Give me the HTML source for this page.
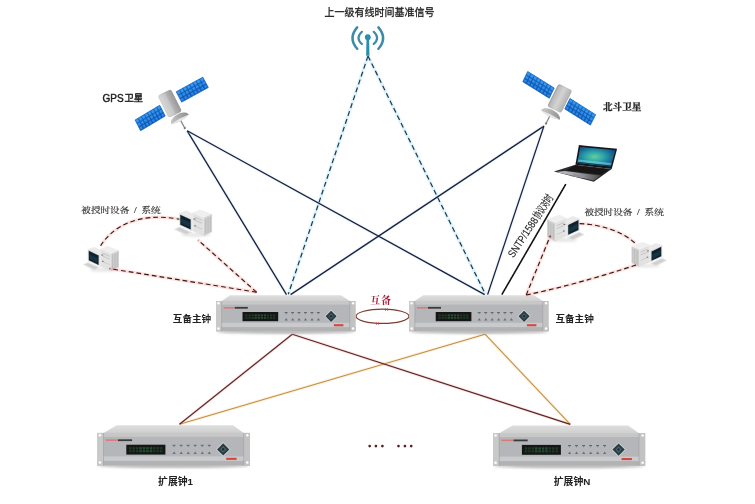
<!DOCTYPE html>
<html lang="zh-CN">
<head>
<meta charset="utf-8">
<title>时钟同步系统组网图</title>
<style>
html,body{margin:0;padding:0;background:#fff;}
body{width:755px;height:504px;overflow:hidden;font-family:"Liberation Sans","Noto Sans CJK SC",sans-serif;}
svg{display:block;}
</style>
</head>
<body>
<svg width="755" height="504" viewBox="0 0 755 504">
<defs>
<linearGradient id="gtop" x1="0" y1="0" x2="0" y2="1"><stop offset="0" stop-color="#dedede"/><stop offset="1" stop-color="#cfcfcf"/></linearGradient>
<linearGradient id="gfront" x1="0" y1="0" x2="0" y2="1"><stop offset="0" stop-color="#d4d4d4"/><stop offset=".6" stop-color="#cbcbcb"/><stop offset="1" stop-color="#c0c0c0"/></linearGradient>
<linearGradient id="gpanel" x1="0" y1="0" x2="0" y2="1"><stop offset="0" stop-color="#2f8fe8"/><stop offset="1" stop-color="#1260c4"/></linearGradient>
<linearGradient id="gbody" x1="0" y1="0" x2="1" y2="0"><stop offset="0" stop-color="#d2d2d2"/><stop offset=".5" stop-color="#b8b8b8"/><stop offset="1" stop-color="#979797"/></linearGradient>
<linearGradient id="gbody2" x1="0" y1="0" x2="1" y2="0"><stop offset="0" stop-color="#a2a2a2"/><stop offset=".55" stop-color="#cfcfcf"/><stop offset="1" stop-color="#b0b0b0"/></linearGradient>
<linearGradient id="gdish" x1="0" y1="0" x2="1" y2="0"><stop offset="0" stop-color="#c9c9c9"/><stop offset="1" stop-color="#8f8f8f"/></linearGradient>
<radialGradient id="gscreen" cx="0.45" cy="0.5" r="0.6"><stop offset="0" stop-color="#5fd0a0"/><stop offset=".45" stop-color="#2aa0a8"/><stop offset="1" stop-color="#0f4a86"/></radialGradient>
<linearGradient id="gpalm" x1="0" y1="0" x2="1" y2="0"><stop offset="0" stop-color="#c4c6c9"/><stop offset=".5" stop-color="#9a9ca0"/><stop offset="1" stop-color="#4a4c50"/></linearGradient>
<filter id="b2" x="-10%" y="-200%" width="120%" height="500%"><feGaussianBlur stdDeviation="1.2"/></filter>
<filter id="soft" x="-5%" y="-5%" width="110%" height="110%"><feGaussianBlur stdDeviation="0.38"/></filter>
</defs>
<rect width="755" height="504" fill="#fff"/>
<g filter="url(#soft)">
<line x1="368" y1="56" x2="288.3" y2="294.2" stroke="#6cc8ee" stroke-width="3.4" opacity=".22"/>
<line x1="368" y1="56" x2="288.3" y2="294.2" stroke="#183a52" stroke-width="1.2" stroke-dasharray="5 3.3"/>
<line x1="368" y1="56" x2="485.4" y2="294.2" stroke="#6cc8ee" stroke-width="3.4" opacity=".22"/>
<line x1="368" y1="56" x2="485.4" y2="294.2" stroke="#183a52" stroke-width="1.2" stroke-dasharray="5 3.3"/>
<line x1="187.2" y1="130.8" x2="286.5" y2="294.6" stroke="#9fc4ee" stroke-width="3.2" opacity=".18"/>
<line x1="187.2" y1="130.8" x2="286.5" y2="294.6" stroke="#16233f" stroke-width="1.3" />
<line x1="187.2" y1="130.8" x2="484.7" y2="294.6" stroke="#9fc4ee" stroke-width="3.2" opacity=".18"/>
<line x1="187.2" y1="130.8" x2="484.7" y2="294.6" stroke="#16233f" stroke-width="1.3" />
<line x1="543.9" y1="126.1" x2="290.6" y2="294.6" stroke="#9fc4ee" stroke-width="3.2" opacity=".18"/>
<line x1="543.9" y1="126.1" x2="290.6" y2="294.6" stroke="#16233f" stroke-width="1.3" />
<line x1="543.9" y1="126.1" x2="487.6" y2="294.6" stroke="#9fc4ee" stroke-width="3.2" opacity=".18"/>
<line x1="543.9" y1="126.1" x2="487.6" y2="294.6" stroke="#16233f" stroke-width="1.3" />
<line x1="565.8" y1="184.2" x2="501.8" y2="294.6" stroke="#121212" stroke-width="1.6" />
<line x1="485" y1="334.2" x2="179.5" y2="424.3" stroke="#f6d9a0" stroke-width="3" opacity=".35"/>
<line x1="485" y1="334.2" x2="179.5" y2="424.3" stroke="#c48e44" stroke-width="1.05" />
<line x1="485" y1="334.2" x2="570.3" y2="424.4" stroke="#f6d9a0" stroke-width="3" opacity=".35"/>
<line x1="485" y1="334.2" x2="570.3" y2="424.4" stroke="#c48e44" stroke-width="1.05" />
<line x1="292.3" y1="334.3" x2="179.5" y2="424.3" stroke="#f0a8a0" stroke-width="3" opacity=".3"/>
<line x1="292.3" y1="334.3" x2="179.5" y2="424.3" stroke="#5c2428" stroke-width="1.15" />
<line x1="292.3" y1="334.3" x2="570.3" y2="424.4" stroke="#f0a8a0" stroke-width="3" opacity=".3"/>
<line x1="292.3" y1="334.3" x2="570.3" y2="424.4" stroke="#5c2428" stroke-width="1.15" />
<ellipse cx="382.5" cy="316.3" rx="26.5" ry="7.1" fill="none" stroke="#7d3b30" stroke-width="1.2"/>
<path d="M385,308 l3,3 l0,-3 l-3,3 z" fill="#c4373a"/>
<path d="M376,322 l3,3 l0,-3 l-3,3 z" fill="#c4373a"/>
<g><ellipse cx="285.8" cy="331.9" rx="68.8" ry="2" fill="#8e8e8e" opacity="0.6" filter="url(#b2)"/><polygon points="230.0,295.2 341.0,295.2 350.2,301.3 221.3,301.3" fill="url(#gtop)"/><rect x="216.0" y="301.0" width="139.5" height="30.3" fill="#c7c7c7"/><rect x="221.3" y="304.6" width="128.9" height="22.4" fill="#b5b6b9"/><rect x="221.3" y="322.8" width="128.9" height="4.2" fill="#c9cacd"/><rect x="216.0" y="327.1" width="139.5" height="4.2" fill="#b2b2b2"/><rect x="216.0" y="301.0" width="5.3" height="30.3" fill="#c9c9c9"/><rect x="350.2" y="301.0" width="5.3" height="30.3" fill="#c2c2c2"/><rect x="221.3" y="301.0" width="0.8" height="30.3" fill="#a2a2a2" opacity=".8"/><rect x="349.4" y="301.0" width="0.8" height="30.3" fill="#a2a2a2" opacity=".8"/><circle cx="218.4" cy="303.3" r="1.25" fill="#fff"/><circle cx="218.4" cy="328.6" r="1.25" fill="#fff"/><circle cx="353.1" cy="303.3" r="1.25" fill="#fff"/><circle cx="353.1" cy="328.6" r="1.25" fill="#fff"/><rect x="223.7" y="307.1" width="10.9" height="1.5" fill="#d77a78"/><rect x="234.8" y="306.9" width="13.0" height="1.8" fill="#3b3b3b"/><rect x="242.5" y="312.0" width="35.7" height="9.2" fill="#161816"/><rect x="245.3" y="314.4" width="2.2" height="4.4" fill="#2f5f3a" opacity="0.45"/><rect x="248.4" y="314.4" width="2.2" height="4.4" fill="#2f5f3a" opacity="0.45"/><rect x="251.5" y="314.4" width="2.2" height="4.4" fill="#2f5f3a" opacity="0.45"/><rect x="254.6" y="314.4" width="2.2" height="4.4" fill="#2f5f3a" opacity="0.75"/><rect x="257.7" y="314.4" width="2.2" height="4.4" fill="#2f5f3a" opacity="0.75"/><rect x="260.8" y="314.4" width="2.2" height="4.4" fill="#2f5f3a" opacity="0.75"/><rect x="263.9" y="314.4" width="2.2" height="4.4" fill="#2f5f3a" opacity="0.75"/><rect x="266.9" y="314.4" width="2.2" height="4.4" fill="#2f5f3a" opacity="0.45"/><rect x="270.0" y="314.4" width="2.2" height="4.4" fill="#2f5f3a" opacity="0.45"/><rect x="273.1" y="314.4" width="2.2" height="4.4" fill="#2f5f3a" opacity="0.45"/><rect x="244.5" y="316.2" width="31.7" height="0.8" fill="#161816" opacity=".8"/><rect x="284.7" y="312.0" width="2.8" height="1.1" fill="#5d636b"/><rect x="285.7" y="312.7" width="0.9" height="1.6" fill="#7a8088"/><polygon points="286.2,318.1 287.8,320.6 284.6,320.6" fill="#6a7078"/><rect x="291.2" y="312.0" width="2.8" height="1.1" fill="#5d636b"/><rect x="292.2" y="312.7" width="0.9" height="1.6" fill="#7a8088"/><polygon points="292.7,318.1 294.3,320.6 291.1,320.6" fill="#6a7078"/><rect x="297.6" y="312.0" width="2.8" height="1.1" fill="#5d636b"/><rect x="298.6" y="312.7" width="0.9" height="1.6" fill="#7a8088"/><polygon points="299.1,318.1 300.7,320.6 297.5,320.6" fill="#6a7078"/><rect x="304.0" y="312.0" width="2.8" height="1.1" fill="#5d636b"/><rect x="305.0" y="312.7" width="0.9" height="1.6" fill="#7a8088"/><polygon points="305.5,318.1 307.1,320.6 303.9,320.6" fill="#6a7078"/><rect x="310.5" y="312.0" width="2.8" height="1.1" fill="#5d636b"/><rect x="311.5" y="312.7" width="0.9" height="1.6" fill="#7a8088"/><polygon points="312.0,318.1 313.6,320.6 310.4,320.6" fill="#6a7078"/><rect x="316.9" y="312.0" width="2.8" height="1.1" fill="#5d636b"/><rect x="317.9" y="312.7" width="0.9" height="1.6" fill="#7a8088"/><polygon points="318.4,318.1 320.0,320.6 316.8,320.6" fill="#6a7078"/><polygon points="331.1,309.5 337.9,316.3 331.1,323.1 324.3,316.3" fill="#d6d9dc" opacity=".8"/><polygon points="331.1,310.7 336.7,316.3 331.1,321.9 325.5,316.3" fill="#2b3c42"/><polygon points="331.1,313.5 333.9,316.3 331.1,319.1 328.3,316.3" fill="#4c6a74"/><circle cx="331.1" cy="316.3" r="1.3" fill="#1f2b30"/><rect x="333.9" y="324.2" width="9.5" height="2.1" fill="#d8453c"/></g>
<g><ellipse cx="478.9" cy="331.9" rx="68.7" ry="2" fill="#8e8e8e" opacity="0.6" filter="url(#b2)"/><polygon points="423.2,295.2 534.0,295.2 543.2,301.3 414.5,301.3" fill="url(#gtop)"/><rect x="409.2" y="301.0" width="139.3" height="30.3" fill="#c7c7c7"/><rect x="414.5" y="304.6" width="128.7" height="22.4" fill="#b5b6b9"/><rect x="414.5" y="322.8" width="128.7" height="4.2" fill="#c9cacd"/><rect x="409.2" y="327.1" width="139.3" height="4.2" fill="#b2b2b2"/><rect x="409.2" y="301.0" width="5.3" height="30.3" fill="#c9c9c9"/><rect x="543.2" y="301.0" width="5.3" height="30.3" fill="#c2c2c2"/><rect x="414.5" y="301.0" width="0.8" height="30.3" fill="#a2a2a2" opacity=".8"/><rect x="542.4" y="301.0" width="0.8" height="30.3" fill="#a2a2a2" opacity=".8"/><circle cx="411.6" cy="303.3" r="1.25" fill="#fff"/><circle cx="411.6" cy="328.6" r="1.25" fill="#fff"/><circle cx="546.1" cy="303.3" r="1.25" fill="#fff"/><circle cx="546.1" cy="328.6" r="1.25" fill="#fff"/><rect x="416.9" y="307.1" width="10.9" height="1.5" fill="#d77a78"/><rect x="428.0" y="306.9" width="13.0" height="1.8" fill="#3b3b3b"/><rect x="435.7" y="312.0" width="35.7" height="9.2" fill="#161816"/><rect x="438.5" y="314.4" width="2.2" height="4.4" fill="#2f5f3a" opacity="0.45"/><rect x="441.6" y="314.4" width="2.2" height="4.4" fill="#2f5f3a" opacity="0.45"/><rect x="444.6" y="314.4" width="2.2" height="4.4" fill="#2f5f3a" opacity="0.45"/><rect x="447.7" y="314.4" width="2.2" height="4.4" fill="#2f5f3a" opacity="0.75"/><rect x="450.8" y="314.4" width="2.2" height="4.4" fill="#2f5f3a" opacity="0.75"/><rect x="453.9" y="314.4" width="2.2" height="4.4" fill="#2f5f3a" opacity="0.75"/><rect x="457.0" y="314.4" width="2.2" height="4.4" fill="#2f5f3a" opacity="0.75"/><rect x="460.1" y="314.4" width="2.2" height="4.4" fill="#2f5f3a" opacity="0.45"/><rect x="463.2" y="314.4" width="2.2" height="4.4" fill="#2f5f3a" opacity="0.45"/><rect x="466.2" y="314.4" width="2.2" height="4.4" fill="#2f5f3a" opacity="0.45"/><rect x="437.7" y="316.2" width="31.7" height="0.8" fill="#161816" opacity=".8"/><rect x="477.8" y="312.0" width="2.8" height="1.1" fill="#5d636b"/><rect x="478.8" y="312.7" width="0.9" height="1.6" fill="#7a8088"/><polygon points="479.3,318.1 480.9,320.6 477.7,320.6" fill="#6a7078"/><rect x="484.3" y="312.0" width="2.8" height="1.1" fill="#5d636b"/><rect x="485.3" y="312.7" width="0.9" height="1.6" fill="#7a8088"/><polygon points="485.8,318.1 487.4,320.6 484.2,320.6" fill="#6a7078"/><rect x="490.7" y="312.0" width="2.8" height="1.1" fill="#5d636b"/><rect x="491.7" y="312.7" width="0.9" height="1.6" fill="#7a8088"/><polygon points="492.2,318.1 493.8,320.6 490.6,320.6" fill="#6a7078"/><rect x="497.1" y="312.0" width="2.8" height="1.1" fill="#5d636b"/><rect x="498.1" y="312.7" width="0.9" height="1.6" fill="#7a8088"/><polygon points="498.6,318.1 500.2,320.6 497.0,320.6" fill="#6a7078"/><rect x="503.5" y="312.0" width="2.8" height="1.1" fill="#5d636b"/><rect x="504.5" y="312.7" width="0.9" height="1.6" fill="#7a8088"/><polygon points="505.0,318.1 506.6,320.6 503.4,320.6" fill="#6a7078"/><rect x="509.9" y="312.0" width="2.8" height="1.1" fill="#5d636b"/><rect x="510.9" y="312.7" width="0.9" height="1.6" fill="#7a8088"/><polygon points="511.4,318.1 513.0,320.6 509.8,320.6" fill="#6a7078"/><polygon points="524.1,309.5 530.9,316.3 524.1,323.1 517.3,316.3" fill="#d6d9dc" opacity=".8"/><polygon points="524.1,310.7 529.7,316.3 524.1,321.9 518.5,316.3" fill="#2b3c42"/><polygon points="524.1,313.5 526.9,316.3 524.1,319.1 521.3,316.3" fill="#4c6a74"/><circle cx="524.1" cy="316.3" r="1.3" fill="#1f2b30"/><rect x="526.9" y="324.2" width="9.5" height="2.1" fill="#d8453c"/></g>
<g><ellipse cx="173.6" cy="466.1" rx="75.3" ry="2" fill="#8e8e8e" opacity="0.6" filter="url(#b2)"/><polygon points="116.7,425.3 232.9,425.3 244.1,433.2 103.1,433.2" fill="url(#gtop)"/><rect x="97.3" y="432.9" width="152.6" height="32.6" fill="#c7c7c7"/><rect x="103.1" y="436.8" width="141.0" height="24.1" fill="#b5b6b9"/><rect x="103.1" y="456.4" width="141.0" height="4.6" fill="#c9cacd"/><rect x="97.3" y="460.9" width="152.6" height="4.6" fill="#b2b2b2"/><rect x="97.3" y="432.9" width="5.8" height="32.6" fill="#c9c9c9"/><rect x="244.1" y="432.9" width="5.8" height="32.6" fill="#c2c2c2"/><rect x="103.1" y="432.9" width="0.8" height="32.6" fill="#a2a2a2" opacity=".8"/><rect x="243.3" y="432.9" width="0.8" height="32.6" fill="#a2a2a2" opacity=".8"/><circle cx="99.9" cy="435.3" r="1.25" fill="#fff"/><circle cx="99.9" cy="462.6" r="1.25" fill="#fff"/><circle cx="247.3" cy="435.3" r="1.25" fill="#fff"/><circle cx="247.3" cy="462.6" r="1.25" fill="#fff"/><rect x="105.7" y="439.4" width="11.9" height="1.5" fill="#d77a78"/><rect x="117.9" y="439.3" width="14.2" height="1.8" fill="#3b3b3b"/><rect x="126.3" y="444.7" width="39.1" height="9.9" fill="#161816"/><rect x="129.1" y="447.1" width="2.5" height="5.1" fill="#2f5f3a" opacity="0.45"/><rect x="132.5" y="447.1" width="2.5" height="5.1" fill="#2f5f3a" opacity="0.45"/><rect x="135.9" y="447.1" width="2.5" height="5.1" fill="#2f5f3a" opacity="0.45"/><rect x="139.4" y="447.1" width="2.5" height="5.1" fill="#2f5f3a" opacity="0.75"/><rect x="142.8" y="447.1" width="2.5" height="5.1" fill="#2f5f3a" opacity="0.75"/><rect x="146.2" y="447.1" width="2.5" height="5.1" fill="#2f5f3a" opacity="0.75"/><rect x="149.7" y="447.1" width="2.5" height="5.1" fill="#2f5f3a" opacity="0.75"/><rect x="153.1" y="447.1" width="2.5" height="5.1" fill="#2f5f3a" opacity="0.45"/><rect x="156.5" y="447.1" width="2.5" height="5.1" fill="#2f5f3a" opacity="0.45"/><rect x="159.9" y="447.1" width="2.5" height="5.1" fill="#2f5f3a" opacity="0.45"/><rect x="128.3" y="449.3" width="35.1" height="0.8" fill="#161816" opacity=".8"/><rect x="172.6" y="444.8" width="2.8" height="1.1" fill="#5d636b"/><rect x="173.6" y="445.5" width="0.9" height="1.6" fill="#7a8088"/><polygon points="174.1,451.4 175.7,453.9 172.5,453.9" fill="#6a7078"/><rect x="179.7" y="444.8" width="2.8" height="1.1" fill="#5d636b"/><rect x="180.7" y="445.5" width="0.9" height="1.6" fill="#7a8088"/><polygon points="181.2,451.4 182.8,453.9 179.6,453.9" fill="#6a7078"/><rect x="186.7" y="444.8" width="2.8" height="1.1" fill="#5d636b"/><rect x="187.7" y="445.5" width="0.9" height="1.6" fill="#7a8088"/><polygon points="188.2,451.4 189.8,453.9 186.6,453.9" fill="#6a7078"/><rect x="193.7" y="444.8" width="2.8" height="1.1" fill="#5d636b"/><rect x="194.7" y="445.5" width="0.9" height="1.6" fill="#7a8088"/><polygon points="195.2,451.4 196.8,453.9 193.6,453.9" fill="#6a7078"/><rect x="200.8" y="444.8" width="2.8" height="1.1" fill="#5d636b"/><rect x="201.8" y="445.5" width="0.9" height="1.6" fill="#7a8088"/><polygon points="202.3,451.4 203.9,453.9 200.7,453.9" fill="#6a7078"/><rect x="207.8" y="444.8" width="2.8" height="1.1" fill="#5d636b"/><rect x="208.8" y="445.5" width="0.9" height="1.6" fill="#7a8088"/><polygon points="209.3,451.4 210.9,453.9 207.7,453.9" fill="#6a7078"/><polygon points="223.2,442.0 230.6,449.4 223.2,456.8 215.8,449.4" fill="#d6d9dc" opacity=".8"/><polygon points="223.2,443.2 229.4,449.4 223.2,455.6 217.0,449.4" fill="#2b3c42"/><polygon points="223.2,446.3 226.3,449.4 223.2,452.5 220.1,449.4" fill="#4c6a74"/><circle cx="223.2" cy="449.4" r="1.3" fill="#1f2b30"/><rect x="226.2" y="457.8" width="10.4" height="2.1" fill="#d8453c"/></g>
<g><ellipse cx="569.1" cy="466.3" rx="75.1" ry="2" fill="#8e8e8e" opacity="0.6" filter="url(#b2)"/><polygon points="512.4,425.5 628.2,425.5 639.4,433.4 498.8,433.4" fill="url(#gtop)"/><rect x="493.0" y="433.1" width="152.2" height="32.6" fill="#c7c7c7"/><rect x="498.8" y="437.0" width="140.6" height="24.1" fill="#b5b6b9"/><rect x="498.8" y="456.6" width="140.6" height="4.6" fill="#c9cacd"/><rect x="493.0" y="461.1" width="152.2" height="4.6" fill="#b2b2b2"/><rect x="493.0" y="433.1" width="5.8" height="32.6" fill="#c9c9c9"/><rect x="639.4" y="433.1" width="5.8" height="32.6" fill="#c2c2c2"/><rect x="498.8" y="433.1" width="0.8" height="32.6" fill="#a2a2a2" opacity=".8"/><rect x="638.6" y="433.1" width="0.8" height="32.6" fill="#a2a2a2" opacity=".8"/><circle cx="495.6" cy="435.5" r="1.25" fill="#fff"/><circle cx="495.6" cy="462.8" r="1.25" fill="#fff"/><circle cx="642.6" cy="435.5" r="1.25" fill="#fff"/><circle cx="642.6" cy="462.8" r="1.25" fill="#fff"/><rect x="501.4" y="439.6" width="11.9" height="1.5" fill="#d77a78"/><rect x="513.5" y="439.5" width="14.2" height="1.8" fill="#3b3b3b"/><rect x="521.9" y="444.9" width="39.0" height="9.9" fill="#161816"/><rect x="524.7" y="447.3" width="2.5" height="5.1" fill="#2f5f3a" opacity="0.45"/><rect x="528.1" y="447.3" width="2.5" height="5.1" fill="#2f5f3a" opacity="0.45"/><rect x="531.6" y="447.3" width="2.5" height="5.1" fill="#2f5f3a" opacity="0.45"/><rect x="535.0" y="447.3" width="2.5" height="5.1" fill="#2f5f3a" opacity="0.75"/><rect x="538.4" y="447.3" width="2.5" height="5.1" fill="#2f5f3a" opacity="0.75"/><rect x="541.8" y="447.3" width="2.5" height="5.1" fill="#2f5f3a" opacity="0.75"/><rect x="545.2" y="447.3" width="2.5" height="5.1" fill="#2f5f3a" opacity="0.75"/><rect x="548.6" y="447.3" width="2.5" height="5.1" fill="#2f5f3a" opacity="0.45"/><rect x="552.0" y="447.3" width="2.5" height="5.1" fill="#2f5f3a" opacity="0.45"/><rect x="555.5" y="447.3" width="2.5" height="5.1" fill="#2f5f3a" opacity="0.45"/><rect x="523.9" y="449.5" width="35.0" height="0.8" fill="#161816" opacity=".8"/><rect x="568.1" y="445.0" width="2.8" height="1.1" fill="#5d636b"/><rect x="569.1" y="445.7" width="0.9" height="1.6" fill="#7a8088"/><polygon points="569.6,451.6 571.2,454.1 568.0,454.1" fill="#6a7078"/><rect x="575.1" y="445.0" width="2.8" height="1.1" fill="#5d636b"/><rect x="576.1" y="445.7" width="0.9" height="1.6" fill="#7a8088"/><polygon points="576.6,451.6 578.2,454.1 575.0,454.1" fill="#6a7078"/><rect x="582.2" y="445.0" width="2.8" height="1.1" fill="#5d636b"/><rect x="583.2" y="445.7" width="0.9" height="1.6" fill="#7a8088"/><polygon points="583.7,451.6 585.3,454.1 582.1,454.1" fill="#6a7078"/><rect x="589.2" y="445.0" width="2.8" height="1.1" fill="#5d636b"/><rect x="590.2" y="445.7" width="0.9" height="1.6" fill="#7a8088"/><polygon points="590.7,451.6 592.3,454.1 589.1,454.1" fill="#6a7078"/><rect x="596.2" y="445.0" width="2.8" height="1.1" fill="#5d636b"/><rect x="597.2" y="445.7" width="0.9" height="1.6" fill="#7a8088"/><polygon points="597.7,451.6 599.3,454.1 596.1,454.1" fill="#6a7078"/><rect x="603.2" y="445.0" width="2.8" height="1.1" fill="#5d636b"/><rect x="604.2" y="445.7" width="0.9" height="1.6" fill="#7a8088"/><polygon points="604.7,451.6 606.3,454.1 603.1,454.1" fill="#6a7078"/><polygon points="618.6,442.2 626.0,449.6 618.6,457.0 611.2,449.6" fill="#d6d9dc" opacity=".8"/><polygon points="618.6,443.4 624.8,449.6 618.6,455.8 612.4,449.6" fill="#2b3c42"/><polygon points="618.6,446.5 621.7,449.6 618.6,452.7 615.5,449.6" fill="#4c6a74"/><circle cx="618.6" cy="449.6" r="1.3" fill="#1f2b30"/><rect x="621.6" y="458.0" width="10.3" height="2.1" fill="#d8453c"/></g>
<g><g transform="matrix(0.8584,-0.5130,0.4572,0.8894,135.1,120)"><rect x="0" y="0" width="28.66" height="12.03" fill="url(#gpanel)"/><rect x="0.70" y="0.70" width="2.18" height="2.41" fill="#45a6f5" opacity=".5"/><rect x="0.70" y="4.71" width="2.18" height="2.41" fill="#45a6f5" opacity=".5"/><rect x="0.70" y="8.72" width="2.18" height="2.41" fill="#45a6f5" opacity=".5"/><rect x="4.28" y="0.70" width="2.18" height="2.41" fill="#45a6f5" opacity=".5"/><rect x="4.28" y="4.71" width="2.18" height="2.41" fill="#45a6f5" opacity=".5"/><rect x="4.28" y="8.72" width="2.18" height="2.41" fill="#45a6f5" opacity=".5"/><rect x="7.86" y="0.70" width="2.18" height="2.41" fill="#45a6f5" opacity=".5"/><rect x="7.86" y="4.71" width="2.18" height="2.41" fill="#45a6f5" opacity=".5"/><rect x="7.86" y="8.72" width="2.18" height="2.41" fill="#45a6f5" opacity=".5"/><rect x="11.45" y="0.70" width="2.18" height="2.41" fill="#45a6f5" opacity=".5"/><rect x="11.45" y="4.71" width="2.18" height="2.41" fill="#45a6f5" opacity=".5"/><rect x="11.45" y="8.72" width="2.18" height="2.41" fill="#45a6f5" opacity=".5"/><rect x="15.03" y="0.70" width="2.18" height="2.41" fill="#45a6f5" opacity=".5"/><rect x="15.03" y="4.71" width="2.18" height="2.41" fill="#45a6f5" opacity=".5"/><rect x="15.03" y="8.72" width="2.18" height="2.41" fill="#45a6f5" opacity=".5"/><rect x="18.61" y="0.70" width="2.18" height="2.41" fill="#45a6f5" opacity=".5"/><rect x="18.61" y="4.71" width="2.18" height="2.41" fill="#45a6f5" opacity=".5"/><rect x="18.61" y="8.72" width="2.18" height="2.41" fill="#45a6f5" opacity=".5"/><rect x="22.19" y="0.70" width="2.18" height="2.41" fill="#45a6f5" opacity=".5"/><rect x="22.19" y="4.71" width="2.18" height="2.41" fill="#45a6f5" opacity=".5"/><rect x="22.19" y="8.72" width="2.18" height="2.41" fill="#45a6f5" opacity=".5"/><rect x="25.78" y="0.70" width="2.18" height="2.41" fill="#45a6f5" opacity=".5"/><rect x="25.78" y="4.71" width="2.18" height="2.41" fill="#45a6f5" opacity=".5"/><rect x="25.78" y="8.72" width="2.18" height="2.41" fill="#45a6f5" opacity=".5"/><line x1="3.58" y1="0" x2="3.58" y2="12.03" stroke="#0b4fa8" stroke-width=".55"/><line x1="7.16" y1="0" x2="7.16" y2="12.03" stroke="#0b4fa8" stroke-width=".55"/><line x1="10.75" y1="0" x2="10.75" y2="12.03" stroke="#0b4fa8" stroke-width=".55"/><line x1="14.33" y1="0" x2="14.33" y2="12.03" stroke="#0b4fa8" stroke-width=".55"/><line x1="17.91" y1="0" x2="17.91" y2="12.03" stroke="#0b4fa8" stroke-width=".55"/><line x1="21.49" y1="0" x2="21.49" y2="12.03" stroke="#0b4fa8" stroke-width=".55"/><line x1="25.08" y1="0" x2="25.08" y2="12.03" stroke="#0b4fa8" stroke-width=".55"/><line x1="0" y1="4.01" x2="28.66" y2="4.01" stroke="#0b4fa8" stroke-width=".55"/><line x1="0" y1="8.02" x2="28.66" y2="8.02" stroke="#0b4fa8" stroke-width=".55"/><rect x="0" y="0" width="28.66" height="12.03" fill="none" stroke="#1263c0" stroke-width=".7"/></g><g transform="matrix(0.8766,-0.4812,0.4710,0.8821,176.2,91.8)"><rect x="0" y="0" width="30.34" height="11.68" fill="url(#gpanel)"/><rect x="0.70" y="0.70" width="2.39" height="2.29" fill="#45a6f5" opacity=".5"/><rect x="0.70" y="4.59" width="2.39" height="2.29" fill="#45a6f5" opacity=".5"/><rect x="0.70" y="8.48" width="2.39" height="2.29" fill="#45a6f5" opacity=".5"/><rect x="4.49" y="0.70" width="2.39" height="2.29" fill="#45a6f5" opacity=".5"/><rect x="4.49" y="4.59" width="2.39" height="2.29" fill="#45a6f5" opacity=".5"/><rect x="4.49" y="8.48" width="2.39" height="2.29" fill="#45a6f5" opacity=".5"/><rect x="8.29" y="0.70" width="2.39" height="2.29" fill="#45a6f5" opacity=".5"/><rect x="8.29" y="4.59" width="2.39" height="2.29" fill="#45a6f5" opacity=".5"/><rect x="8.29" y="8.48" width="2.39" height="2.29" fill="#45a6f5" opacity=".5"/><rect x="12.08" y="0.70" width="2.39" height="2.29" fill="#45a6f5" opacity=".5"/><rect x="12.08" y="4.59" width="2.39" height="2.29" fill="#45a6f5" opacity=".5"/><rect x="12.08" y="8.48" width="2.39" height="2.29" fill="#45a6f5" opacity=".5"/><rect x="15.87" y="0.70" width="2.39" height="2.29" fill="#45a6f5" opacity=".5"/><rect x="15.87" y="4.59" width="2.39" height="2.29" fill="#45a6f5" opacity=".5"/><rect x="15.87" y="8.48" width="2.39" height="2.29" fill="#45a6f5" opacity=".5"/><rect x="19.66" y="0.70" width="2.39" height="2.29" fill="#45a6f5" opacity=".5"/><rect x="19.66" y="4.59" width="2.39" height="2.29" fill="#45a6f5" opacity=".5"/><rect x="19.66" y="8.48" width="2.39" height="2.29" fill="#45a6f5" opacity=".5"/><rect x="23.46" y="0.70" width="2.39" height="2.29" fill="#45a6f5" opacity=".5"/><rect x="23.46" y="4.59" width="2.39" height="2.29" fill="#45a6f5" opacity=".5"/><rect x="23.46" y="8.48" width="2.39" height="2.29" fill="#45a6f5" opacity=".5"/><rect x="27.25" y="0.70" width="2.39" height="2.29" fill="#45a6f5" opacity=".5"/><rect x="27.25" y="4.59" width="2.39" height="2.29" fill="#45a6f5" opacity=".5"/><rect x="27.25" y="8.48" width="2.39" height="2.29" fill="#45a6f5" opacity=".5"/><line x1="3.79" y1="0" x2="3.79" y2="11.68" stroke="#0b4fa8" stroke-width=".55"/><line x1="7.59" y1="0" x2="7.59" y2="11.68" stroke="#0b4fa8" stroke-width=".55"/><line x1="11.38" y1="0" x2="11.38" y2="11.68" stroke="#0b4fa8" stroke-width=".55"/><line x1="15.17" y1="0" x2="15.17" y2="11.68" stroke="#0b4fa8" stroke-width=".55"/><line x1="18.96" y1="0" x2="18.96" y2="11.68" stroke="#0b4fa8" stroke-width=".55"/><line x1="22.76" y1="0" x2="22.76" y2="11.68" stroke="#0b4fa8" stroke-width=".55"/><line x1="26.55" y1="0" x2="26.55" y2="11.68" stroke="#0b4fa8" stroke-width=".55"/><line x1="0" y1="3.89" x2="30.34" y2="3.89" stroke="#0b4fa8" stroke-width=".55"/><line x1="0" y1="7.78" x2="30.34" y2="7.78" stroke="#0b4fa8" stroke-width=".55"/><rect x="0" y="0" width="30.34" height="11.68" fill="none" stroke="#1263c0" stroke-width=".7"/></g><g transform="translate(169.8,103.6) rotate(-26.5)"><rect x="-7.5" y="-12.5" width="15" height="25" rx="2.6" fill="url(#gbody)"/><rect x="-6.3" y="-11.5" width="6.75" height="23" rx="1.8" fill="#fff" opacity=".18"/></g><g transform="translate(180.0,119.4) rotate(-29)"><line x1="0" y1="0" x2="0" y2="10" stroke="#8c8c8c" stroke-width="1.3"/><circle cx="0" cy="10" r="1.1" fill="#7a7a7a"/><path d="M-10,0 C-9.0,-7.290000000000001 9.0,-7.290000000000001 10,0 Q0,3.2 -10,0 Z" fill="url(#gdish)"/><path d="M-10,0 Q0,3.4 10,0 Q0,-1.6 -10,0 Z" fill="#e6e6e6"/></g></g>
<g><g transform="matrix(0.8489,0.5286,-0.4330,0.9014,527.7,71.5)"><rect x="0" y="0" width="31.22" height="11.32" fill="url(#gpanel)"/><rect x="0.70" y="0.70" width="2.50" height="2.17" fill="#45a6f5" opacity=".5"/><rect x="0.70" y="4.47" width="2.50" height="2.17" fill="#45a6f5" opacity=".5"/><rect x="0.70" y="8.24" width="2.50" height="2.17" fill="#45a6f5" opacity=".5"/><rect x="4.60" y="0.70" width="2.50" height="2.17" fill="#45a6f5" opacity=".5"/><rect x="4.60" y="4.47" width="2.50" height="2.17" fill="#45a6f5" opacity=".5"/><rect x="4.60" y="8.24" width="2.50" height="2.17" fill="#45a6f5" opacity=".5"/><rect x="8.50" y="0.70" width="2.50" height="2.17" fill="#45a6f5" opacity=".5"/><rect x="8.50" y="4.47" width="2.50" height="2.17" fill="#45a6f5" opacity=".5"/><rect x="8.50" y="8.24" width="2.50" height="2.17" fill="#45a6f5" opacity=".5"/><rect x="12.41" y="0.70" width="2.50" height="2.17" fill="#45a6f5" opacity=".5"/><rect x="12.41" y="4.47" width="2.50" height="2.17" fill="#45a6f5" opacity=".5"/><rect x="12.41" y="8.24" width="2.50" height="2.17" fill="#45a6f5" opacity=".5"/><rect x="16.31" y="0.70" width="2.50" height="2.17" fill="#45a6f5" opacity=".5"/><rect x="16.31" y="4.47" width="2.50" height="2.17" fill="#45a6f5" opacity=".5"/><rect x="16.31" y="8.24" width="2.50" height="2.17" fill="#45a6f5" opacity=".5"/><rect x="20.21" y="0.70" width="2.50" height="2.17" fill="#45a6f5" opacity=".5"/><rect x="20.21" y="4.47" width="2.50" height="2.17" fill="#45a6f5" opacity=".5"/><rect x="20.21" y="8.24" width="2.50" height="2.17" fill="#45a6f5" opacity=".5"/><rect x="24.11" y="0.70" width="2.50" height="2.17" fill="#45a6f5" opacity=".5"/><rect x="24.11" y="4.47" width="2.50" height="2.17" fill="#45a6f5" opacity=".5"/><rect x="24.11" y="8.24" width="2.50" height="2.17" fill="#45a6f5" opacity=".5"/><rect x="28.01" y="0.70" width="2.50" height="2.17" fill="#45a6f5" opacity=".5"/><rect x="28.01" y="4.47" width="2.50" height="2.17" fill="#45a6f5" opacity=".5"/><rect x="28.01" y="8.24" width="2.50" height="2.17" fill="#45a6f5" opacity=".5"/><line x1="3.90" y1="0" x2="3.90" y2="11.32" stroke="#0b4fa8" stroke-width=".55"/><line x1="7.80" y1="0" x2="7.80" y2="11.32" stroke="#0b4fa8" stroke-width=".55"/><line x1="11.71" y1="0" x2="11.71" y2="11.32" stroke="#0b4fa8" stroke-width=".55"/><line x1="15.61" y1="0" x2="15.61" y2="11.32" stroke="#0b4fa8" stroke-width=".55"/><line x1="19.51" y1="0" x2="19.51" y2="11.32" stroke="#0b4fa8" stroke-width=".55"/><line x1="23.41" y1="0" x2="23.41" y2="11.32" stroke="#0b4fa8" stroke-width=".55"/><line x1="27.31" y1="0" x2="27.31" y2="11.32" stroke="#0b4fa8" stroke-width=".55"/><line x1="0" y1="3.77" x2="31.22" y2="3.77" stroke="#0b4fa8" stroke-width=".55"/><line x1="0" y1="7.54" x2="31.22" y2="7.54" stroke="#0b4fa8" stroke-width=".55"/><rect x="0" y="0" width="31.22" height="11.32" fill="none" stroke="#1263c0" stroke-width=".7"/></g><g transform="matrix(0.8450,0.5347,-0.4472,0.8944,570.0,98.5)"><rect x="0" y="0" width="30.30" height="11.63" fill="url(#gpanel)"/><rect x="0.70" y="0.70" width="2.39" height="2.28" fill="#45a6f5" opacity=".5"/><rect x="0.70" y="4.58" width="2.39" height="2.28" fill="#45a6f5" opacity=".5"/><rect x="0.70" y="8.45" width="2.39" height="2.28" fill="#45a6f5" opacity=".5"/><rect x="4.49" y="0.70" width="2.39" height="2.28" fill="#45a6f5" opacity=".5"/><rect x="4.49" y="4.58" width="2.39" height="2.28" fill="#45a6f5" opacity=".5"/><rect x="4.49" y="8.45" width="2.39" height="2.28" fill="#45a6f5" opacity=".5"/><rect x="8.27" y="0.70" width="2.39" height="2.28" fill="#45a6f5" opacity=".5"/><rect x="8.27" y="4.58" width="2.39" height="2.28" fill="#45a6f5" opacity=".5"/><rect x="8.27" y="8.45" width="2.39" height="2.28" fill="#45a6f5" opacity=".5"/><rect x="12.06" y="0.70" width="2.39" height="2.28" fill="#45a6f5" opacity=".5"/><rect x="12.06" y="4.58" width="2.39" height="2.28" fill="#45a6f5" opacity=".5"/><rect x="12.06" y="8.45" width="2.39" height="2.28" fill="#45a6f5" opacity=".5"/><rect x="15.85" y="0.70" width="2.39" height="2.28" fill="#45a6f5" opacity=".5"/><rect x="15.85" y="4.58" width="2.39" height="2.28" fill="#45a6f5" opacity=".5"/><rect x="15.85" y="8.45" width="2.39" height="2.28" fill="#45a6f5" opacity=".5"/><rect x="19.63" y="0.70" width="2.39" height="2.28" fill="#45a6f5" opacity=".5"/><rect x="19.63" y="4.58" width="2.39" height="2.28" fill="#45a6f5" opacity=".5"/><rect x="19.63" y="8.45" width="2.39" height="2.28" fill="#45a6f5" opacity=".5"/><rect x="23.42" y="0.70" width="2.39" height="2.28" fill="#45a6f5" opacity=".5"/><rect x="23.42" y="4.58" width="2.39" height="2.28" fill="#45a6f5" opacity=".5"/><rect x="23.42" y="8.45" width="2.39" height="2.28" fill="#45a6f5" opacity=".5"/><rect x="27.21" y="0.70" width="2.39" height="2.28" fill="#45a6f5" opacity=".5"/><rect x="27.21" y="4.58" width="2.39" height="2.28" fill="#45a6f5" opacity=".5"/><rect x="27.21" y="8.45" width="2.39" height="2.28" fill="#45a6f5" opacity=".5"/><line x1="3.79" y1="0" x2="3.79" y2="11.63" stroke="#0b4fa8" stroke-width=".55"/><line x1="7.57" y1="0" x2="7.57" y2="11.63" stroke="#0b4fa8" stroke-width=".55"/><line x1="11.36" y1="0" x2="11.36" y2="11.63" stroke="#0b4fa8" stroke-width=".55"/><line x1="15.15" y1="0" x2="15.15" y2="11.63" stroke="#0b4fa8" stroke-width=".55"/><line x1="18.93" y1="0" x2="18.93" y2="11.63" stroke="#0b4fa8" stroke-width=".55"/><line x1="22.72" y1="0" x2="22.72" y2="11.63" stroke="#0b4fa8" stroke-width=".55"/><line x1="26.51" y1="0" x2="26.51" y2="11.63" stroke="#0b4fa8" stroke-width=".55"/><line x1="0" y1="3.88" x2="30.30" y2="3.88" stroke="#0b4fa8" stroke-width=".55"/><line x1="0" y1="7.75" x2="30.30" y2="7.75" stroke="#0b4fa8" stroke-width=".55"/><rect x="0" y="0" width="30.30" height="11.63" fill="none" stroke="#1263c0" stroke-width=".7"/></g><g transform="translate(559.8,98.4) rotate(26.5)"><rect x="-7.75" y="-12.75" width="15.5" height="25.5" rx="2.6" fill="url(#gbody2)"/><rect x="-6.55" y="-11.75" width="6.9750000000000005" height="23.5" rx="1.8" fill="#fff" opacity=".18"/></g><g transform="translate(550.3,115.0) rotate(26.5)"><line x1="0" y1="0" x2="0" y2="9.5" stroke="#8c8c8c" stroke-width="1.3"/><circle cx="0" cy="9.5" r="1.1" fill="#7a7a7a"/><path d="M-10.6,0 C-9.54,-7.290000000000001 9.54,-7.290000000000001 10.6,0 Q0,3.2 -10.6,0 Z" fill="url(#gdish)"/><path d="M-10.6,0 Q0,3.4 10.6,0 Q0,-1.6 -10.6,0 Z" fill="#e6e6e6"/></g></g>
<g transform="translate(174.4,209.8) scale(0.98,0.98)"><ellipse cx="22" cy="25.5" rx="15" ry="2.2" fill="#bdbdbd" opacity=".35" filter="url(#b2)"/><polygon points="18,3 26,-0.4 38.4,4.3 30,8" fill="#efefef"/><polygon points="18,3 30,8 30,27 18,21.5" fill="#e2e2e2"/><polygon points="30,8 38.4,4.3 38.4,22.6 30,27" fill="#d2d2d2"/><line x1="31.6" y1="9.2" x2="31.6" y2="24.6" stroke="#b4b4b4" stroke-width=".7"/><line x1="33.35" y1="8.42" x2="33.35" y2="23.82" stroke="#b4b4b4" stroke-width=".7"/><line x1="35.1" y1="7.639999999999999" x2="35.1" y2="23.040000000000003" stroke="#b4b4b4" stroke-width=".7"/><line x1="36.85" y1="6.859999999999999" x2="36.85" y2="22.26" stroke="#b4b4b4" stroke-width=".7"/><line x1="21" y1="7.6" x2="28.4" y2="10.8" stroke="#bcbcbc" stroke-width=".8"/><line x1="21" y1="10.6" x2="28.4" y2="13.8" stroke="#bcbcbc" stroke-width=".8"/><line x1="21" y1="16.6" x2="28.4" y2="19.8" stroke="#c6c6c6" stroke-width=".8"/><polygon points="5,3.2 12,0.8 19.4,4.3 19.4,20 17.8,21.4 5,15.5" fill="#eaeaea"/><polygon points="5,3.4 17.8,9.4 17.8,21.8 5,15.8" fill="#dedede"/><polygon points="6,5 16.6,10 16.6,20.2 6,15.2" fill="#11242f"/><polygon points="7,9 15.4,13 15.4,17.4 7,13.4" fill="#1c4a5e" opacity=".45"/><rect x="19.6" y="8.9" width="1.8" height="1.2" fill="#6e6e6e"/><rect x="20.2" y="15.7" width="1.7" height="1.2" fill="#7a7a7a"/><polygon points="-0.5,19.8 5.3,17 18.4,23.2 12,26.4" fill="#e4e4e4"/><polygon points="1.8,19.8 5.3,18.2 15.8,23 12,24.8" fill="#cfcfcf"/></g>
<g transform="translate(83.2,246.2) scale(0.93,0.93)"><ellipse cx="22" cy="25.5" rx="15" ry="2.2" fill="#bdbdbd" opacity=".35" filter="url(#b2)"/><polygon points="18,3 26,-0.4 38.4,4.3 30,8" fill="#efefef"/><polygon points="18,3 30,8 30,27 18,21.5" fill="#e2e2e2"/><polygon points="30,8 38.4,4.3 38.4,22.6 30,27" fill="#d2d2d2"/><line x1="31.6" y1="9.2" x2="31.6" y2="24.6" stroke="#b4b4b4" stroke-width=".7"/><line x1="33.35" y1="8.42" x2="33.35" y2="23.82" stroke="#b4b4b4" stroke-width=".7"/><line x1="35.1" y1="7.639999999999999" x2="35.1" y2="23.040000000000003" stroke="#b4b4b4" stroke-width=".7"/><line x1="36.85" y1="6.859999999999999" x2="36.85" y2="22.26" stroke="#b4b4b4" stroke-width=".7"/><line x1="21" y1="7.6" x2="28.4" y2="10.8" stroke="#bcbcbc" stroke-width=".8"/><line x1="21" y1="10.6" x2="28.4" y2="13.8" stroke="#bcbcbc" stroke-width=".8"/><line x1="21" y1="16.6" x2="28.4" y2="19.8" stroke="#c6c6c6" stroke-width=".8"/><polygon points="5,3.2 12,0.8 19.4,4.3 19.4,20 17.8,21.4 5,15.5" fill="#eaeaea"/><polygon points="5,3.4 17.8,9.4 17.8,21.8 5,15.8" fill="#dedede"/><polygon points="6,5 16.6,10 16.6,20.2 6,15.2" fill="#11242f"/><polygon points="7,9 15.4,13 15.4,17.4 7,13.4" fill="#1c4a5e" opacity=".45"/><rect x="19.6" y="8.9" width="1.8" height="1.2" fill="#6e6e6e"/><rect x="20.2" y="15.7" width="1.7" height="1.2" fill="#7a7a7a"/><polygon points="-0.5,19.8 5.3,17 18.4,23.2 12,26.4" fill="#e4e4e4"/><polygon points="1.8,19.8 5.3,18.2 15.8,23 12,24.8" fill="#cfcfcf"/></g>
<g transform="translate(584.3,215.2) scale(-0.97,0.97)"><ellipse cx="22" cy="25.5" rx="15" ry="2.2" fill="#bdbdbd" opacity=".35" filter="url(#b2)"/><polygon points="18,3 26,-0.4 38.4,4.3 30,8" fill="#efefef"/><polygon points="18,3 30,8 30,27 18,21.5" fill="#e2e2e2"/><polygon points="30,8 38.4,4.3 38.4,22.6 30,27" fill="#d2d2d2"/><line x1="31.6" y1="9.2" x2="31.6" y2="24.6" stroke="#b4b4b4" stroke-width=".7"/><line x1="33.35" y1="8.42" x2="33.35" y2="23.82" stroke="#b4b4b4" stroke-width=".7"/><line x1="35.1" y1="7.639999999999999" x2="35.1" y2="23.040000000000003" stroke="#b4b4b4" stroke-width=".7"/><line x1="36.85" y1="6.859999999999999" x2="36.85" y2="22.26" stroke="#b4b4b4" stroke-width=".7"/><line x1="21" y1="7.6" x2="28.4" y2="10.8" stroke="#bcbcbc" stroke-width=".8"/><line x1="21" y1="10.6" x2="28.4" y2="13.8" stroke="#bcbcbc" stroke-width=".8"/><line x1="21" y1="16.6" x2="28.4" y2="19.8" stroke="#c6c6c6" stroke-width=".8"/><polygon points="5,3.2 12,0.8 19.4,4.3 19.4,20 17.8,21.4 5,15.5" fill="#eaeaea"/><polygon points="5,3.4 17.8,9.4 17.8,21.8 5,15.8" fill="#dedede"/><polygon points="6,5 16.6,10 16.6,20.2 6,15.2" fill="#11242f"/><polygon points="7,9 15.4,13 15.4,17.4 7,13.4" fill="#1c4a5e" opacity=".45"/><rect x="19.6" y="8.9" width="1.8" height="1.2" fill="#6e6e6e"/><rect x="20.2" y="15.7" width="1.7" height="1.2" fill="#7a7a7a"/><polygon points="-0.5,19.8 5.3,17 18.4,23.2 12,26.4" fill="#e4e4e4"/><polygon points="1.8,19.8 5.3,18.2 15.8,23 12,24.8" fill="#cfcfcf"/></g>
<g transform="translate(666.8,242.2) scale(-0.92,0.92)"><ellipse cx="22" cy="25.5" rx="15" ry="2.2" fill="#bdbdbd" opacity=".35" filter="url(#b2)"/><polygon points="18,3 26,-0.4 38.4,4.3 30,8" fill="#efefef"/><polygon points="18,3 30,8 30,27 18,21.5" fill="#e2e2e2"/><polygon points="30,8 38.4,4.3 38.4,22.6 30,27" fill="#d2d2d2"/><line x1="31.6" y1="9.2" x2="31.6" y2="24.6" stroke="#b4b4b4" stroke-width=".7"/><line x1="33.35" y1="8.42" x2="33.35" y2="23.82" stroke="#b4b4b4" stroke-width=".7"/><line x1="35.1" y1="7.639999999999999" x2="35.1" y2="23.040000000000003" stroke="#b4b4b4" stroke-width=".7"/><line x1="36.85" y1="6.859999999999999" x2="36.85" y2="22.26" stroke="#b4b4b4" stroke-width=".7"/><line x1="21" y1="7.6" x2="28.4" y2="10.8" stroke="#bcbcbc" stroke-width=".8"/><line x1="21" y1="10.6" x2="28.4" y2="13.8" stroke="#bcbcbc" stroke-width=".8"/><line x1="21" y1="16.6" x2="28.4" y2="19.8" stroke="#c6c6c6" stroke-width=".8"/><polygon points="5,3.2 12,0.8 19.4,4.3 19.4,20 17.8,21.4 5,15.5" fill="#eaeaea"/><polygon points="5,3.4 17.8,9.4 17.8,21.8 5,15.8" fill="#dedede"/><polygon points="6,5 16.6,10 16.6,20.2 6,15.2" fill="#11242f"/><polygon points="7,9 15.4,13 15.4,17.4 7,13.4" fill="#1c4a5e" opacity=".45"/><rect x="19.6" y="8.9" width="1.8" height="1.2" fill="#6e6e6e"/><rect x="20.2" y="15.7" width="1.7" height="1.2" fill="#7a7a7a"/><polygon points="-0.5,19.8 5.3,17 18.4,23.2 12,26.4" fill="#e4e4e4"/><polygon points="1.8,19.8 5.3,18.2 15.8,23 12,24.8" fill="#cfcfcf"/></g>
<path d="M100.6,245.8 C112,227.5 137,211.5 179.4,219.2" fill="none" stroke="#f26a5a" stroke-width="3.4" opacity=".2"/>
<path d="M100.6,245.8 C112,227.5 137,211.5 179.4,219.2" fill="none" stroke="#3c1513" stroke-width="1.15" stroke-dasharray="4.7 3.1"/>
<path d="M256.6,292.2 L198,240" fill="none" stroke="#f26a5a" stroke-width="3.4" opacity=".2"/>
<path d="M256.6,292.2 L198,240" fill="none" stroke="#3c1513" stroke-width="1.15" stroke-dasharray="4.7 3.1"/>
<path d="M256.6,292.2 L109.5,268.6" fill="none" stroke="#f26a5a" stroke-width="3.4" opacity=".2"/>
<path d="M256.6,292.2 L109.5,268.6" fill="none" stroke="#3c1513" stroke-width="1.15" stroke-dasharray="4.7 3.1"/>
<path d="M579.6,223.6 C600,224.4 622,231 635.4,243.4" fill="none" stroke="#f26a5a" stroke-width="3.4" opacity=".2"/>
<path d="M579.6,223.6 C600,224.4 622,231 635.4,243.4" fill="none" stroke="#3c1513" stroke-width="1.15" stroke-dasharray="4.7 3.1"/>
<path d="M526.2,295 L550.4,235.6" fill="none" stroke="#f26a5a" stroke-width="3.4" opacity=".2"/>
<path d="M526.2,295 L550.4,235.6" fill="none" stroke="#3c1513" stroke-width="1.15" stroke-dasharray="4.7 3.1"/>
<path d="M526.2,295 C560,288 600,277 636.6,264.8" fill="none" stroke="#f26a5a" stroke-width="3.4" opacity=".2"/>
<path d="M526.2,295 C560,288 600,277 636.6,264.8" fill="none" stroke="#3c1513" stroke-width="1.15" stroke-dasharray="4.7 3.1"/>
<g><polygon points="575.4,164.8 611.7,168.9 593.8,181.8 553.9,171.6" fill="#2a2a2a"/><polygon points="574.5,165.6 609,169.4 601.5,174.8 566.5,170.4" fill="#161616"/><polygon points="565,171 600.5,175.6 593.6,180.6 556,171.9" fill="url(#gpalm)"/><polygon points="574,174 586,175.6 583,178 571,176.2" fill="#8e9196"/><polygon points="578.9,145.1 617.1,148.7 611.7,168.9 575.4,164.8" fill="#17191e"/><polygon points="580.3,147 615.2,150.2 610.6,166.6 577.4,163" fill="#124f86"/><polygon points="580.3,147 615.2,150.2 610.6,166.6 577.4,163" fill="url(#gscreen)"/><polygon points="578.1,159.6 611.6,163 610.8,165.4 577.7,161.8" fill="#7fe0e6" opacity=".55"/><polygon points="577.7,161.8 610.8,165.4 610.6,166.6 577.4,163" fill="#0c2f4a" opacity=".8"/></g>
<g fill="none" stroke-linecap="round"><path d="M366.5,38 L369.1,38 L369.5,55.8 L366.1,55.8 Z" fill="#2a8eb3"/><circle cx="367.8" cy="37.2" r="2.9" fill="#2a8eb3"/><path d="M361.9,31.8 Q355.10,37.9 361.9,44.0" stroke="#3a8aa6" stroke-width="2.2"/><path d="M373.7,31.8 Q380.50,37.9 373.7,44.0" stroke="#3a8aa6" stroke-width="2.2"/><path d="M357.2,27.4 Q347.80,38.099999999999994 357.2,48.8" stroke="#3a8aa6" stroke-width="2.5"/><path d="M378.4,27.4 Q387.80,38.099999999999994 378.4,48.8" stroke="#3a8aa6" stroke-width="2.5"/></g>
<circle cx="369.7" cy="446.1" r="1.35" fill="#5a1c24"/>
<circle cx="375.9" cy="446.1" r="1.35" fill="#5a1c24"/>
<circle cx="382.4" cy="446.1" r="1.35" fill="#5a1c24"/>
<circle cx="398.5" cy="446.1" r="1.35" fill="#5a1c24"/>
<circle cx="404.9" cy="446.1" r="1.35" fill="#5a1c24"/>
<circle cx="411.2" cy="446.1" r="1.35" fill="#5a1c24"/>
<text x="379.5" y="16.4" text-anchor="middle" font-size="10" fill="#1c1c1c" stroke="#1c1c1c" stroke-width=".28" font-family="'Liberation Sans','Noto Sans CJK SC',sans-serif">上一级有线时间基准信号</text>
<text x="102.6" y="101.6" font-size="10" fill="#1c1c1c" stroke="#1c1c1c" stroke-width=".4" font-family="'Liberation Sans','Noto Sans CJK SC',sans-serif">GPS<tspan dx="0.7" dy="-0.7" font-size="9.4">卫星</tspan></text>
<text x="603" y="109.6" font-size="9.6" font-weight="700" fill="#1e1e1e" stroke="#1e1e1e" stroke-width=".25" font-family="'Liberation Serif','Noto Serif CJK SC',serif">北斗卫星</text>
<text x="172.8" y="321.8" font-size="9.6" font-weight="700" fill="#222" font-family="'Liberation Sans','Noto Sans CJK SC',sans-serif">互备主钟</text>
<text x="555.4" y="321.7" font-size="9.6" font-weight="700" fill="#222" font-family="'Liberation Sans','Noto Sans CJK SC',sans-serif">互备主钟</text>
<text x="158.1" y="485.1" font-size="9.8" font-weight="700" fill="#222" font-family="'Liberation Sans','Noto Sans CJK SC',sans-serif">扩展钟1</text>
<text x="553.8" y="485.1" font-size="9.8" font-weight="700" fill="#222" font-family="'Liberation Sans','Noto Sans CJK SC',sans-serif">扩展钟N</text>
<text x="370.3" y="303.9" font-size="10" font-weight="700" fill="#a51f3a" letter-spacing="0.7" font-family="'Liberation Serif','Noto Serif CJK SC',serif">互备</text>
<text transform="translate(81.3,212.5) scale(1,0.86)" font-size="9.6" fill="#2e2e2e" stroke="#2e2e2e" stroke-width=".18" font-family="'Liberation Serif','Noto Serif CJK SC',serif"><tspan x="0" y="0">被授时设备</tspan><tspan x="52.6" y="0">/</tspan><tspan x="60.2" y="0">系统</tspan></text>
<text transform="translate(584.4,214.9) scale(1,0.86)" font-size="9.6" fill="#2e2e2e" stroke="#2e2e2e" stroke-width=".18" font-family="'Liberation Serif','Noto Serif CJK SC',serif"><tspan x="0" y="0">被授时设备</tspan><tspan x="52.6" y="0">/</tspan><tspan x="60.2" y="0">系统</tspan></text>
<text transform="translate(513.6,258.2) rotate(-56.6)" font-size="10.8" fill="#242424" stroke="#242424" stroke-width=".12" font-family="'Liberation Sans','Noto Sans CJK SC',sans-serif"><tspan x="0" y="0" textLength="45.4" lengthAdjust="spacingAndGlyphs">SNTP/1588</tspan><tspan x="46" y="0" textLength="26.6" lengthAdjust="spacingAndGlyphs">协议对时</tspan></text>
</g></svg>
</body>
</html>
